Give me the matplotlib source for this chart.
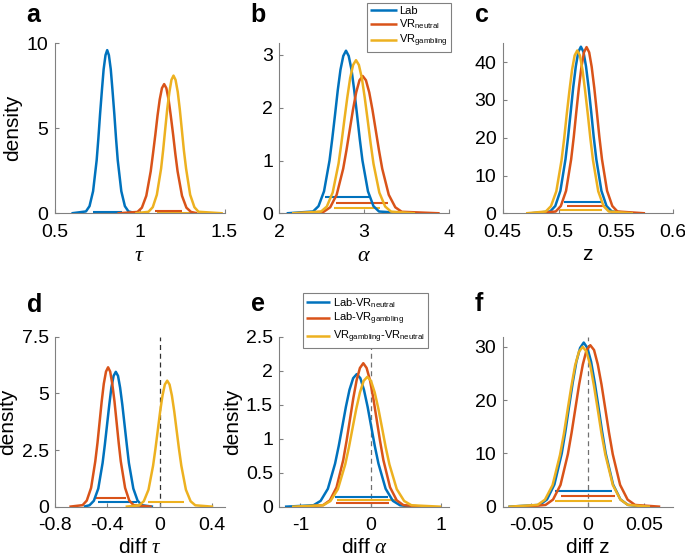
import matplotlib
matplotlib.use("Agg")
import matplotlib.pyplot as plt

plt.rcParams['font.family'] = ['Liberation Sans', 'DejaVu Sans']
plt.rcParams['mathtext.fontset'] = 'custom'
plt.rcParams['mathtext.rm'] = 'Liberation Sans'
plt.rcParams['mathtext.it'] = 'Liberation Serif:italic'
plt.rcParams['mathtext.bf'] = 'Liberation Sans:bold'
plt.rcParams['axes.unicode_minus'] = False

# ---------------- data ----------------
# panel a : tau
a_lab_x = [0.60, 0.685, 0.706, 0.727, 0.748, 0.758, 0.768, 0.779, 0.789, 0.800, 0.810, 0.820, 0.831, 0.841, 0.852, 0.862, 0.872, 0.893, 0.914, 0.935, 0.98]
a_lab_y = [0, 0.11, 0.42, 1.30, 3.12, 4.40, 5.83, 7.25, 8.47, 9.30, 9.6, 9.30, 8.47, 7.25, 5.83, 4.40, 3.12, 1.30, 0.42, 0.11, 0]
a_vrn_x = [0.87, 0.988, 1.014, 1.040, 1.066, 1.079, 1.093, 1.106, 1.119, 1.132, 1.145, 1.158, 1.171, 1.184, 1.198, 1.211, 1.224, 1.250, 1.276, 1.303, 1.34]
a_vrn_y = [0, 0.08, 0.33, 1.03, 2.47, 3.48, 4.61, 5.74, 6.70, 7.36, 7.6, 7.36, 6.70, 5.74, 4.61, 3.48, 2.47, 1.03, 0.33, 0.08, 0]
a_vrg_x = [0.975, 1.053, 1.078, 1.102, 1.127, 1.139, 1.151, 1.163, 1.176, 1.188, 1.200, 1.212, 1.225, 1.237, 1.249, 1.261, 1.274, 1.298, 1.323, 1.347, 1.49]
a_vrg_y = [0, 0.09, 0.36, 1.09, 2.63, 3.71, 4.92, 6.12, 7.14, 7.85, 8.1, 7.85, 7.14, 6.12, 4.92, 3.71, 2.63, 1.09, 0.36, 0.09, 0]
a_hdi_lo = [0.729, 1.09, 1.105]
a_hdi_hi = [0.896, 1.25, 1.295]
a_hdi_lvl = [0.10, 0.12, 0.04]

# panel b : alpha
b_lab_x = [2.087, 2.398, 2.462, 2.527, 2.592, 2.624, 2.657, 2.689, 2.721, 2.754, 2.786, 2.818, 2.851, 2.883, 2.916, 2.948, 2.980, 3.045, 3.110, 3.175, 3.5]
b_lab_y = [0, 0.034, 0.135, 0.416, 1.00, 1.41, 1.87, 2.33, 2.72, 2.98, 3.08, 2.98, 2.72, 2.33, 1.87, 1.41, 1.00, 0.416, 0.135, 0.034, 0]
b_vrn_x = [2.2, 2.523, 2.600, 2.676, 2.753, 2.791, 2.830, 2.868, 2.906, 2.945, 2.983, 3.021, 3.060, 3.098, 3.136, 3.175, 3.213, 3.290, 3.367, 3.443, 3.89]
b_vrn_y = [0, 0.029, 0.114, 0.351, 0.845, 1.19, 1.58, 1.96, 2.29, 2.52, 2.60, 2.52, 2.29, 1.96, 1.58, 1.19, 0.845, 0.351, 0.114, 0.029, 0]
b_vrg_x = [2.15, 2.491, 2.560, 2.629, 2.698, 2.732, 2.766, 2.801, 2.835, 2.870, 2.904, 2.938, 2.973, 3.007, 3.042, 3.076, 3.110, 3.179, 3.248, 3.317, 3.6]
b_vrg_y = [0, 0.032, 0.128, 0.392, 0.94, 1.33, 1.76, 2.19, 2.56, 2.81, 2.90, 2.81, 2.56, 2.19, 1.76, 1.33, 0.94, 0.392, 0.128, 0.032, 0]
b_hdi_lo = [2.54, 2.67, 2.645]
b_hdi_hi = [3.07, 3.28, 3.19]
b_hdi_lvl = [0.3, 0.2, 0.1]

# panel c : z
c_lab_x = [0.475, 0.4919, 0.4964, 0.5009, 0.5054, 0.5077, 0.5100, 0.5122, 0.5145, 0.5167, 0.5190, 0.5213, 0.5235, 0.5258, 0.5281, 0.5303, 0.5326, 0.5371, 0.5416, 0.5462, 0.565]
c_lab_y = [0, 0.49, 1.94, 5.95, 14.3, 20.2, 26.8, 33.3, 38.9, 42.7, 44.1, 42.7, 38.9, 33.3, 26.8, 20.2, 14.3, 5.95, 1.94, 0.49, 0]
c_vrn_x = [0.48, 0.4968, 0.5013, 0.5059, 0.5104, 0.5127, 0.5149, 0.5172, 0.5195, 0.5217, 0.5240, 0.5263, 0.5285, 0.5308, 0.5331, 0.5353, 0.5376, 0.5421, 0.5467, 0.5512, 0.5756]
c_vrn_y = [0, 0.48, 1.94, 5.94, 14.3, 20.2, 26.7, 33.2, 38.8, 42.6, 44.0, 42.6, 38.8, 33.2, 26.7, 20.2, 14.3, 5.94, 1.94, 0.48, 0]
c_vrg_x = [0.4706, 0.4880, 0.4926, 0.4973, 0.5019, 0.5042, 0.5065, 0.5089, 0.5112, 0.5135, 0.5158, 0.5181, 0.5204, 0.5227, 0.5251, 0.5274, 0.5297, 0.5343, 0.5390, 0.5436, 0.565]
c_vrg_y = [0, 0.47, 1.90, 5.82, 14.0, 19.7, 26.2, 32.5, 38.0, 41.8, 43.1, 41.8, 38.0, 32.5, 26.2, 19.7, 14.0, 5.82, 1.90, 0.47, 0]
c_hdi_lo = [0.5044, 0.5065, 0.5006]
c_hdi_hi = [0.5379, 0.540, 0.5379]
c_hdi_lvl = [3, 2, 1]

# panel d : diff tau
d_ln_x = [-0.58, -0.536, -0.503, -0.469, -0.436, -0.419, -0.402, -0.385, -0.369, -0.352, -0.335, -0.318, -0.302, -0.285, -0.268, -0.251, -0.235, -0.201, -0.168, -0.134, -0.05]
d_ln_y = [0, 0.065, 0.26, 0.80, 1.93, 2.73, 3.61, 4.49, 5.25, 5.77, 5.95, 5.77, 5.25, 4.49, 3.61, 2.73, 1.93, 0.80, 0.26, 0.065, 0]
d_lg_x = [-0.69, -0.589, -0.557, -0.524, -0.492, -0.475, -0.459, -0.443, -0.427, -0.410, -0.394, -0.378, -0.362, -0.345, -0.329, -0.313, -0.297, -0.264, -0.232, -0.199, -0.06]
d_lg_y = [0, 0.068, 0.27, 0.83, 2.00, 2.82, 3.73, 4.64, 5.42, 5.96, 6.15, 5.96, 5.42, 4.64, 3.73, 2.82, 2.00, 0.83, 0.27, 0.068, 0]
d_gn_x = [-0.26, -0.157, -0.121, -0.085, -0.050, -0.032, -0.014, 0.004, 0.022, 0.040, 0.058, 0.076, 0.094, 0.112, 0.130, 0.148, 0.166, 0.201, 0.237, 0.273, 0.41]
d_gn_y = [0, 0.061, 0.24, 0.75, 1.81, 2.55, 3.37, 4.20, 4.90, 5.39, 5.56, 5.39, 4.90, 4.20, 3.37, 2.55, 1.81, 0.75, 0.24, 0.061, 0]
d_hdi_lo = [-0.47, -0.487, -0.09]
d_hdi_hi = [-0.17, -0.259, 0.19]
d_hdi_lvl = [0.2, 0.4, 0.2]

# panel e : diff alpha
e_ln_x = [-1.22, -0.815, -0.713, -0.610, -0.508, -0.456, -0.405, -0.354, -0.303, -0.251, -0.200, -0.149, -0.098, -0.046, 0.005, 0.056, 0.108, 0.210, 0.313, 0.415, 0.6]
e_ln_y = [0, 0.021, 0.086, 0.264, 0.634, 0.893, 1.18, 1.47, 1.72, 1.89, 1.95, 1.89, 1.72, 1.47, 1.18, 0.893, 0.634, 0.264, 0.086, 0.021, 0]
e_lg_x = [-0.95, -0.677, -0.582, -0.487, -0.392, -0.345, -0.297, -0.250, -0.202, -0.155, -0.107, -0.060, -0.012, 0.036, 0.083, 0.131, 0.178, 0.273, 0.368, 0.463, 0.75]
e_lg_y = [0, 0.023, 0.093, 0.285, 0.686, 0.966, 1.28, 1.59, 1.86, 2.04, 2.11, 2.04, 1.86, 1.59, 1.28, 0.966, 0.686, 0.285, 0.093, 0.023, 0]
e_gn_x = [-1.12, -0.677, -0.573, -0.468, -0.364, -0.311, -0.259, -0.207, -0.155, -0.102, -0.050, 0.002, 0.055, 0.107, 0.159, 0.211, 0.264, 0.368, 0.473, 0.577, 1.0]
e_gn_y = [0, 0.021, 0.084, 0.258, 0.621, 0.875, 1.16, 1.44, 1.68, 1.85, 1.91, 1.85, 1.68, 1.44, 1.16, 0.875, 0.621, 0.258, 0.084, 0.021, 0]
e_hdi_lo = [-0.51, -0.50, -0.48]
e_hdi_hi = [0.25, 0.26, 0.36]
e_hdi_lvl = [0.15, 0.05, 0.10]

# panel f : diff z
f_ln_x = [-0.07, -0.0424, -0.0359, -0.0294, -0.0229, -0.0197, -0.0165, -0.0132, -0.0100, -0.0067, -0.0035, -0.0003, 0.0030, 0.0062, 0.0095, 0.0127, 0.0159, 0.0224, 0.0289, 0.0354, 0.05]
f_ln_y = [0, 0.34, 1.36, 4.16, 10.0, 14.1, 18.7, 23.3, 27.2, 29.8, 30.8, 29.8, 27.2, 23.3, 18.7, 14.1, 10.0, 4.16, 1.36, 0.34, 0]
f_lg_x = [-0.055, -0.0372, -0.0306, -0.0240, -0.0175, -0.0142, -0.0109, -0.0076, -0.0043, -0.0010, 0.0023, 0.0056, 0.0089, 0.0122, 0.0155, 0.0188, 0.0221, 0.0286, 0.0352, 0.0418, 0.064]
f_lg_y = [0, 0.33, 1.33, 4.09, 9.85, 13.9, 18.4, 22.9, 26.7, 29.4, 30.3, 29.4, 26.7, 22.9, 18.4, 13.9, 9.85, 4.09, 1.33, 0.33, 0]
f_gn_x = [-0.07, -0.0443, -0.0377, -0.0310, -0.0244, -0.0210, -0.0177, -0.0144, -0.0111, -0.0077, -0.0044, -0.0011, 0.0023, 0.0056, 0.0089, 0.0122, 0.0156, 0.0222, 0.0289, 0.0355, 0.055]
f_gn_y = [0, 0.33, 1.32, 4.05, 9.75, 13.7, 18.2, 22.6, 26.5, 29.1, 30.0, 29.1, 26.5, 22.6, 18.2, 13.7, 9.75, 4.05, 1.32, 0.33, 0]
f_hdi_lo = [-0.0286, -0.0233, -0.0286]
f_hdi_hi = [0.0212, 0.024, 0.0212]
f_hdi_lvl = [3, 2, 1]

legend_top = ['Lab', r'VR$_{\mathrm{neutral}}$', r'VR$_{\mathrm{gambling}}$']
legend_bottom = [r'Lab-VR$_{\mathrm{neutral}}$', r'Lab-VR$_{\mathrm{gambling}}$',
                 r'VR$_{\mathrm{gambling}}$-VR$_{\mathrm{neutral}}$']

colors = ['#0072BD', '#D95319', '#EDB120']

# ---------------- figure ----------------
W, H = 685, 559
fig = plt.figure(figsize=(W / 100, H / 100), dpi=100)


def ax_at(x0, x1, ytop, ybot):
    return fig.add_axes([x0 / W, 1 - ybot / H, (x1 - x0) / W, (ybot - ytop) / H])


AX_COL = '#808080'
TICK_FS = 14
LAB_FS = 15


def style(ax, xlim, ylim, xticks, yticks, xticklabels=None, yticklabels=None):
    ax.set_xlim(*xlim)
    ax.set_ylim(*ylim)
    ax.set_xticks(xticks)
    ax.set_yticks(yticks)
    if xticklabels is not None:
        ax.set_xticklabels(xticklabels)
    if yticklabels is not None:
        ax.set_yticklabels(yticklabels)
    for s in ['top', 'right']:
        ax.spines[s].set_visible(False)
    for s in ['left', 'bottom']:
        ax.spines[s].set_color(AX_COL)
        ax.spines[s].set_linewidth(0.8)
    ax.tick_params(direction='in', length=3, width=0.8, color=AX_COL,
                   labelsize=TICK_FS, labelcolor='black')
    ax.tick_params(axis='x', pad=7.5)
    ax.tick_params(axis='y', pad=4.5)


def draw(ax, series, lo, hi, lvl, labels=None):
    handles = []
    for i, (xs, ys) in enumerate(series):
        h, = ax.plot(xs, ys, color=colors[i], lw=1.8, zorder=3,
                     label=None if labels is None else labels[i],
                     solid_capstyle='butt')
        handles.append(h)
    for i in range(len(lo)):
        ax.plot([lo[i], hi[i]], [lvl[i], lvl[i]], color=colors[i], lw=1.5,
                zorder=2 - 0.1 * i, solid_capstyle='butt')
    return handles


def zero_line(ax, top, col):
    ax.plot([0, 0], [0, top], color=col, lw=0.9, ls=(0, (4, 3)), zorder=1)


def style_legend(leg):
    fr = leg.get_frame()
    fr.set_edgecolor('#808080')
    fr.set_linewidth(0.8)
    fr.set_alpha(1)


# panel a
ax = ax_at(54.5, 224.5, 43.3, 213.3)
draw(ax, [(a_lab_x, a_lab_y), (a_vrn_x, a_vrn_y), (a_vrg_x, a_vrg_y)], a_hdi_lo, a_hdi_hi, a_hdi_lvl)
style(ax, (0.5, 1.5), (0, 10), [0.5, 1, 1.5], [0, 5, 10], ['0.5', '1', '1.5'], ['0', '5', '10'])
ax.set_ylabel('density', fontsize=LAB_FS, labelpad=3)
ax.set_xlabel(r'$\tau$', fontsize=LAB_FS + 1, labelpad=3)

# panel b
ax = ax_at(279.3, 449, 43.3, 213.3)
hb = draw(ax, [(b_lab_x, b_lab_y), (b_vrn_x, b_vrn_y), (b_vrg_x, b_vrg_y)], b_hdi_lo, b_hdi_hi, b_hdi_lvl, legend_top)
style(ax, (2, 4), (0, 3.22), [2, 3, 4], [0, 1, 2, 3], ['2', '3', '4'], ['0', '1', '2', '3'])
ax.set_xlabel(r'$\alpha$', fontsize=LAB_FS + 1, labelpad=3)
leg = ax.legend(handles=hb, loc='upper left', bbox_to_anchor=(366.7 / W, 1 - 2.7 / H),
                bbox_transform=fig.transFigure, fontsize=8, frameon=True, fancybox=False,
                handlelength=2.4, handletextpad=0.2, borderpad=0.3, labelspacing=0.15,
                borderaxespad=0)
style_legend(leg)

# panel c
ax = ax_at(502.7, 672.7, 43.3, 213.3)
draw(ax, [(c_lab_x, c_lab_y), (c_vrn_x, c_vrn_y), (c_vrg_x, c_vrg_y)], c_hdi_lo, c_hdi_hi, c_hdi_lvl)
style(ax, (0.45, 0.6), (0, 45), [0.45, 0.5, 0.55, 0.6], [0, 10, 20, 30, 40],
      ['0.45', '0.5', '0.55', '0.6'], ['0', '10', '20', '30', '40'])
ax.set_xlabel('z', fontsize=LAB_FS, labelpad=3)

# panel d
ax = ax_at(55, 225, 336.7, 506.7)
zero_line(ax, 7.5, '#303030')
draw(ax, [(d_ln_x, d_ln_y), (d_lg_x, d_lg_y), (d_gn_x, d_gn_y)], d_hdi_lo, d_hdi_hi, d_hdi_lvl)
style(ax, (-0.8, 0.5), (0, 7.5), [-0.8, -0.4, 0, 0.4], [0, 2.5, 5, 7.5],
      ['-0.8', '-0.4', '0', '0.4'], ['0', '2.5', '5', '7.5'])
ax.set_ylabel('density', fontsize=LAB_FS, labelpad=3)
ax.set_xlabel(r'diff $\tau$', fontsize=LAB_FS, labelpad=3)

# panel e
ax = ax_at(279.3, 449, 336.7, 506.7)
zero_line(ax, 2.5, '#707070')
he = draw(ax, [(e_ln_x, e_ln_y), (e_lg_x, e_lg_y), (e_gn_x, e_gn_y)], e_hdi_lo, e_hdi_hi, e_hdi_lvl, legend_bottom)
style(ax, (-1.3, 1.11), (0, 2.5), [-1, 0, 1], [0, 0.5, 1, 1.5, 2, 2.5],
      ['-1', '0', '1'], ['0', '0.5', '1', '1.5', '2', '2.5'])
ax.set_ylabel('density', fontsize=LAB_FS, labelpad=3)
ax.set_xlabel(r'diff $\alpha$', fontsize=LAB_FS, labelpad=3)
leg = ax.legend(handles=he, loc='upper left', bbox_to_anchor=(302.7 / W, 1 - 292.7 / H),
                bbox_transform=fig.transFigure, fontsize=8, frameon=True, fancybox=False,
                handlelength=2.2, handletextpad=0.2, borderpad=0.3, labelspacing=0.15,
                borderaxespad=0)
style_legend(leg)

# panel f
ax = ax_at(502.7, 672.7, 336.7, 506.7)
zero_line(ax, 31.9, '#707070')
draw(ax, [(f_ln_x, f_ln_y), (f_lg_x, f_lg_y), (f_gn_x, f_gn_y)], f_hdi_lo, f_hdi_hi, f_hdi_lvl)
style(ax, (-0.075, 0.075), (0, 31.9), [-0.05, 0, 0.05], [0, 10, 20, 30],
      ['-0.05', '0', '0.05'], ['0', '10', '20', '30'])
ax.set_xlabel('diff z', fontsize=LAB_FS, labelpad=3)

# panel letters
for letter, px, py in [('a', 26.7, 21.7), ('b', 250.7, 22.0), ('c', 475, 22.0),
                       ('d', 26.7, 311.5), ('e', 250.7, 311.0), ('f', 475, 311.0)]:
    fig.text(px / W, 1 - py / H, letter, fontsize=18, fontweight='bold',
             ha='left', va='baseline')

fig.savefig('out.png', dpi=100)
